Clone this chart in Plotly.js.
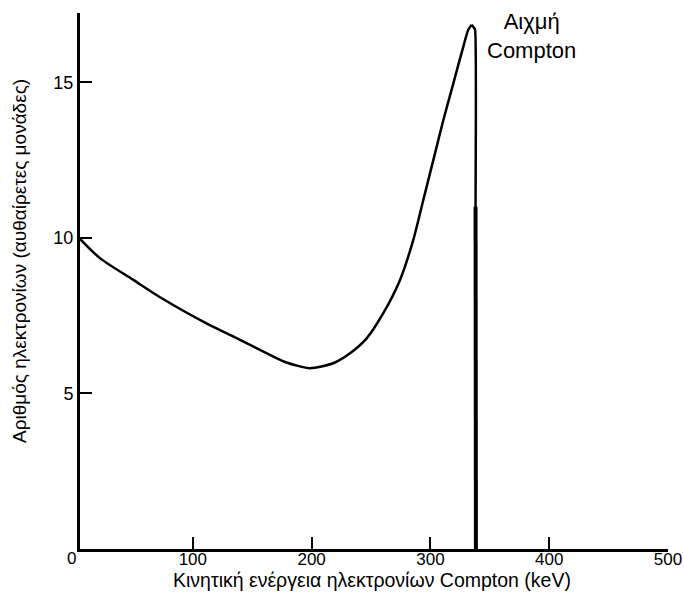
<!DOCTYPE html>
<html>
<head>
<meta charset="utf-8">
<script src="https://cdn.plot.ly/plotly-3.0.1.min.js"></script>
<style>html,body{margin:0;padding:0;background:#fff;}#chart{width:684px;height:592px;}</style>
</head>
<body>
<div id="chart"></div>
<script>
// Compton continuum: electron kinetic energy (keV) vs number of electrons (arbitrary units)
const energyKeV = [5, 21.8, 49.9, 73.8, 111.1, 131.3, 156.5, 177.6, 190.2, 198.6, 218.2, 232.3, 246.3, 260.3, 274.4, 285.6, 294.0, 302.5, 310.9, 319.3, 327.7, 331.9, 334.8];
const electronCount = [9.97, 9.35, 8.65, 8.06, 7.26, 6.88, 6.40, 6.01, 5.87, 5.81, 5.97, 6.29, 6.77, 7.58, 8.65, 9.94, 11.22, 12.51, 13.79, 14.97, 16.15, 16.69, 16.85];

// Compton edge: from the peak straight down to zero
const edgeTopX = [334.8, 337.6, 338.0, 338.3];
const edgeTopY = [16.85, 16.69, 11.0, 0];
// Thicker lower part of the edge
const edgeX = [338.0, 338.3];
const edgeY = [11.0, 0];

const xTickVals = [100, 200, 300, 400, 500];
const xTickText = ["100", "200", "300", "400", "500"];
const yTickVals = [5, 10, 15];
const yTickText = ["5", "10", "15"];
const originLabel = "0";

const xTitle = "Κινητική ενέργεια ηλεκτρονίων Compton (keV)";
const yTitle = "Αριθμός ηλεκτρονίων (αυθαίρετες μονάδες)";
const peakLabel = "Αιχμή<br>Compton";

const FONT = "Liberation Sans, Arial, sans-serif";

const traces = [
  {x: energyKeV, y: electronCount, type: "scatter", mode: "lines",
   line: {color: "#000", width: 2.5, shape: "spline", smoothing: 0.8}, hoverinfo: "skip", showlegend: false},
  {x: edgeTopX, y: edgeTopY, type: "scatter", mode: "lines",
   line: {color: "#000", width: 2.5, shape: "spline", smoothing: 0.3}, hoverinfo: "skip", showlegend: false},
  {x: edgeX, y: edgeY, type: "scatter", mode: "lines",
   line: {color: "#000", width: 4}, hoverinfo: "skip", showlegend: false}
];

const layout = {
  width: 684, height: 592,
  margin: {l: 80, r: 16, t: 13, b: 43},
  paper_bgcolor: "#fff", plot_bgcolor: "#fff",
  font: {family: FONT, color: "#000", size: 18},
  showlegend: false,
  xaxis: {
    range: [5, 500], showgrid: false, zeroline: false,
    showline: true, linecolor: "#000", linewidth: 3,
    ticks: "inside", ticklen: 12, tickwidth: 2, tickcolor: "#000",
    tickvals: xTickVals, ticktext: xTickText, ticklabelstandoff: -7,
    tickfont: {family: FONT, size: 17, color: "#000"}
  },
  yaxis: {
    range: [0, 17.23], showgrid: false, zeroline: false,
    showline: true, linecolor: "#000", linewidth: 3,
    ticks: "inside", ticklen: 12, tickwidth: 2, tickcolor: "#000",
    tickvals: yTickVals, ticktext: yTickText,
    tickfont: {family: FONT, size: 18, color: "#000"}
  },
  annotations: [
    {text: originLabel, xref: "paper", yref: "paper", x: -0.0153, y: 0, yshift: -9,
     xanchor: "center", yanchor: "middle", showarrow: false,
     font: {family: FONT, size: 17, color: "#000"}},
    {text: xTitle, xref: "paper", yref: "paper", x: 0.496, y: -0.0597, yshift: 1,
     xanchor: "center", yanchor: "middle", showarrow: false,
     font: {family: FONT, size: 19.5, color: "#000"}},
    {text: yTitle, xref: "paper", yref: "paper", x: -0.104, y: 0.537, textangle: -90,
     xanchor: "center", yanchor: "middle", showarrow: false,
     font: {family: FONT, size: 19, color: "#000"}},
    {text: peakLabel, xref: "x", yref: "y", x: 385.5, y: 16.5,
     xanchor: "center", yanchor: "middle", showarrow: false,
     font: {family: FONT, size: 22, color: "#000"}}
  ]
};

Plotly.newPlot("chart", traces, layout, {displayModeBar: false, staticPlot: true});
</script>
</body>
</html>
